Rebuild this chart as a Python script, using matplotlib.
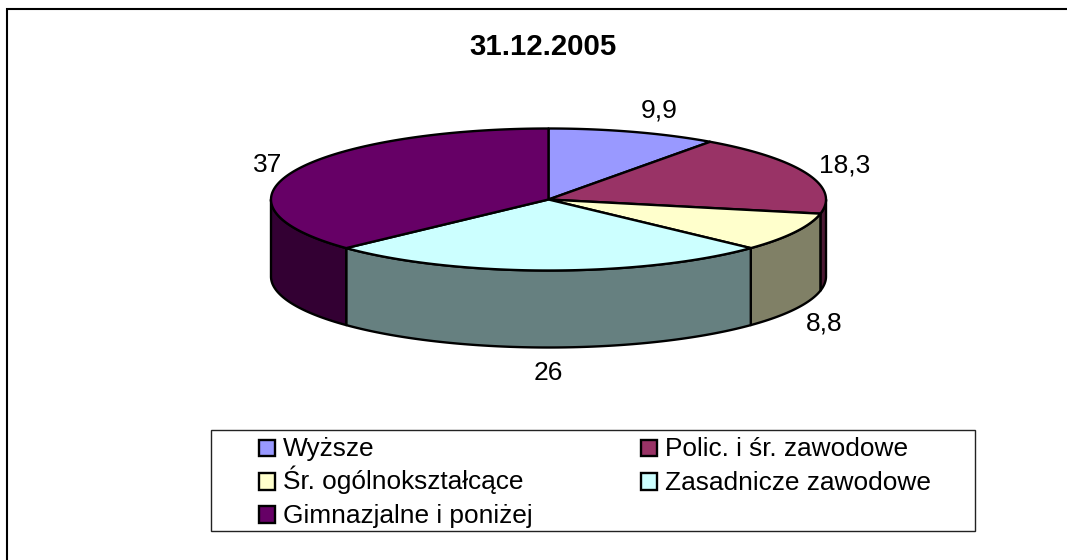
import numpy as np
import matplotlib
matplotlib.use("Agg")
import matplotlib.pyplot as plt
from matplotlib.patches import Rectangle

title = "31.12.2005"
categories = ["Wyższe", "Polic. i śr. zawodowe", "Śr. ogólnokształcące",
              "Zasadnicze zawodowe", "Gimnazjalne i poniżej"]
values = [9.9, 18.3, 8.8, 26, 37]
top_colors = ["#9999FF", "#993366", "#FFFFCC", "#CCFFFF", "#660066"]
side_colors = ["#4C4C80", "#4C1933", "#808066", "#668080", "#330033"]

W, H = 1067, 560
CX, CY, RX, RY, DEPTH = 548.5, 199.5, 277.5, 71, 77
LW = 1.7
label_pos = [(659, 117.5), (845, 173), (824, 330), (548.5, 380), (267.5, 172)]

plt.rcParams["font.family"] = ["Liberation Sans", "DejaVu Sans"]
fig = plt.figure(figsize=(W / 100, H / 100), dpi=100)
ax = fig.add_axes([0, 0, 1, 1])
ax.set_xlim(0, W)
ax.set_ylim(H, 0)
ax.axis("off")

# the outer chart frame: only its top and left edges fall inside the image
ax.plot([6.5, 6.5, W], [H, 8.5, 8.5], color="black", lw=1.5, solid_joinstyle="miter")


def rim(a, b, dy=0.0, n=120):
    t = np.linspace(a, b, n)
    return CX + RX * np.sin(t), CY - RY * np.cos(t) + dy


edges = np.concatenate([[0], np.cumsum(values)]) / np.sum(values) * 2 * np.pi

# side walls (only the front half of the rim is visible)
for a, b, c in zip(edges[:-1], edges[1:], side_colors):
    lo, hi = max(a, np.pi / 2), min(b, 3 * np.pi / 2)
    if hi <= lo:
        continue
    x1, y1 = rim(lo, hi)
    x2, y2 = rim(hi, lo, DEPTH)
    ax.fill(np.r_[x1, x2], np.r_[y1, y2], fc=c, ec="black", lw=LW, joinstyle="round", zorder=2)

# top faces
for a, b, c in zip(edges[:-1], edges[1:], top_colors):
    x, y = rim(a, b)
    ax.fill(np.r_[CX, x], np.r_[CY, y], fc=c, ec="black", lw=LW, joinstyle="round", zorder=3)

ax.text(543, 55, title, ha="center", va="baseline", fontsize=21.2, fontweight="bold", color="black")

for v, (x, y) in zip(values, label_pos):
    ax.text(x, y, f"{v:g}".replace(".", ","), ha="center", va="baseline", fontsize=19, color="black")

# legend box, filled row by row in two columns
ax.add_patch(Rectangle((211, 429.5), 764, 101.5, fc="white", ec="#222222", lw=1.0, zorder=1))
col_x = [258.5, 640.5]
row_base = [456, 489.5, 522.5]
SW = 16.5
for i, (name, c) in enumerate(zip(categories, top_colors)):
    r, k = divmod(i, 2)
    ax.add_patch(Rectangle((col_x[k], row_base[r] - SW), SW, SW, fc=c, ec="black", lw=LW, zorder=4))
    ax.text(col_x[k] + SW + 8, row_base[r], name, ha="left", va="baseline", fontsize=18.9, color="black", zorder=4)

fig.savefig("out.png", dpi=100, facecolor="white")
